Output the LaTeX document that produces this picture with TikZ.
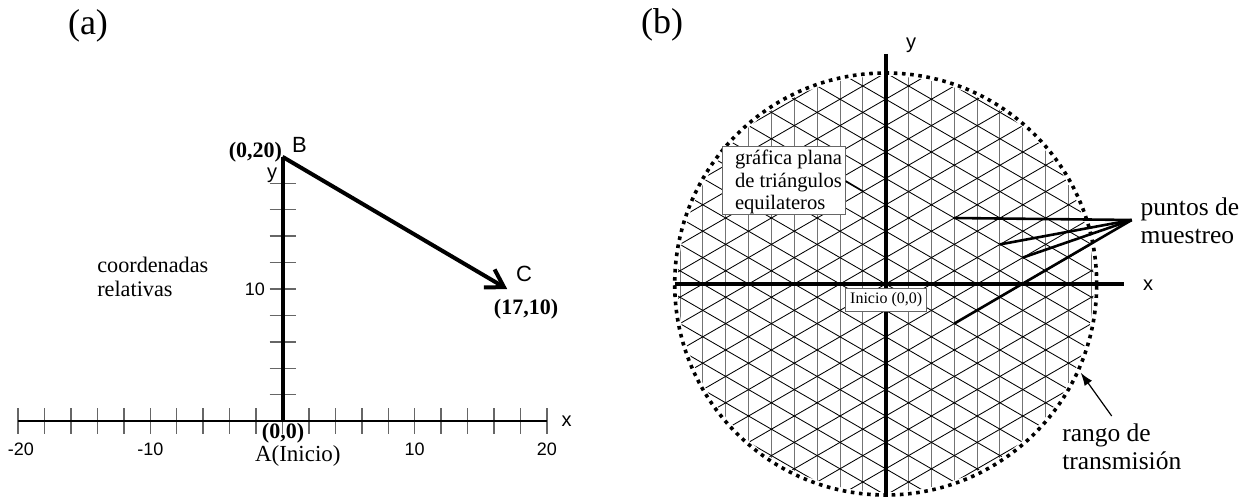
\documentclass[tikz,border=0pt]{standalone}
\usepackage{fontspec}
\setmainfont{Liberation Serif}
\setsansfont{Liberation Sans}
\usetikzlibrary{arrows.meta}
\newcommand{\fsz}[2]{\fontsize{#1pt}{#2pt}\selectfont}
\begin{document}
\begin{tikzpicture}[x=1pt,y=-1pt,
  every node/.style={inner sep=0pt, outer sep=0pt},
  panel/.style={font=\fsz{36}{40}},
  serif/.style={font=\fsz{22.2}{24.4}, align=left},
  bigserif/.style={font=\fsz{25.5}{27.5}, align=left},
  boldlbl/.style={font=\bfseries\fsz{22}{24}},
  sanslbl/.style={font=\sffamily\fsz{22}{24}},
  axlbl/.style={font=\sffamily\fsz{20}{22}},
  num/.style={font=\sffamily\fsz{18}{20}},
  tickln/.style={draw=black!60, line width=1.4pt},
  thinaxis/.style={draw=black, line width=1.8pt},
  thickaxis/.style={draw=black, line width=4pt},
  vec/.style={draw=black, line width=4pt, -{Straight Barb[length=17pt,width=21pt]}},
  vgrid/.style={draw=black!55, line width=1pt},
  dgrid/.style={draw=black, line width=0.85pt},
  rangecirc/.style={draw=black, line width=3.6pt, dash pattern=on 3.6pt off 4.6pt},
  lbox/.style={draw=black!60, line width=1pt, fill=white},
  sampleln/.style={draw=black, line width=2.6pt},
  leader/.style={draw=black, line width=1.3pt},
  pointer/.style={draw=black, line width=1.2pt, -{Latex[length=13pt,width=9pt]}},
]
\useasboundingbox (0,0) rectangle (1251,497);

% ---------------- panel (a) ----------------
\node[panel] (pa) at (88,26) {(a)};
\coordinate (A) at (282.5,421.2);
\coordinate (B) at (282.5,156.8);
\coordinate (C) at (507.2,289);
\coordinate (xa1) at (18.1,421.2);
\coordinate (xa2) at (546.9,421.2);
\foreach \i in {-20,-18,...,20} \draw[tickln] ({282.5+(\i)*13.22},408.2) -- ++(0,26);
\foreach \j in {2,4,...,18} \draw[tickln] (269.5,{421.2-(\j)*13.22}) -- ++(26,0);
\draw[thinaxis] (xa1) -- (xa2);
\draw[thickaxis] (A) -- (B);
\draw[vec] (B) -- (C);

\node[boldlbl, anchor=base east] (l020) at (282,157.3) {(0,20)};
\node[sanslbl] (lB) at (299.5,145) {B};
\node[axlbl] (ly) at (272,175) {y};
\node[sanslbl] (lC) at (524,274) {C};
\node[boldlbl, anchor=base] (l1710) at (526,315) {(17,10)};
\node[num, anchor=east] (l10y) at (265,289.3) {10};
\node[serif, anchor=base west] (coord) at (97.3,296.7) {coordenadas\\relativas};
\node[num, anchor=base] (lm20) at (21,455) {-20};
\node[num, anchor=base] (lm10) at (150.3,455) {-10};
\node[num, anchor=base] (lp10) at (414.7,455) {10};
\node[num, anchor=base] (lp20) at (546.9,455) {20};
\node[boldlbl, anchor=base] (l00) at (283,438.3) {(0,0)};
\node[font=\fsz{23}{25}, anchor=base west] (lA) at (255,461.7) {A(Inicio)};
\node[axlbl] (lx) at (566.5,421.7) {x};

% ---------------- panel (b) ----------------
\node[panel] (pb) at (662,25) {(b)};
\coordinate (O2) at (885.7,284);
\begin{scope}
  \clip (O2) circle[radius=208pt];
  \foreach \k in {-9,...,9} \draw[vgrid] ({885.7+(\k)*22.85},60) -- ++(0,450);
  \foreach \m in {-9,...,9} {
    \draw[dgrid] (665.7,{284+(\m)*26.4-127.02}) -- (1105.7,{284+(\m)*26.4+127.02});
    \draw[dgrid] (665.7,{284+(\m)*26.4+127.02}) -- (1105.7,{284+(\m)*26.4-127.02});
  }
\end{scope}
\draw[rangecirc] (O2) circle[radius=211pt];

\coordinate (xb1) at (674.5,284);
\coordinate (xb2) at (1124,284);
\coordinate (yb1) at (885.7,54);
\coordinate (yb2) at (885.7,497);
\draw[thickaxis] (xb1) -- (xb2);
\draw[thickaxis] (yb1) -- (yb2);
\node[axlbl] (lyb) at (911,45) {y};
\node[axlbl] (lxb) at (1148,285) {x};

% sample points
\coordinate (S1) at (954.25,218);
\coordinate (S2) at (999.95,244.4);
\coordinate (S3) at (1022.8,257.6);
\coordinate (S4) at (954.25,323.6);
\coordinate (P) at (1131.7,220);
\draw[sampleln] (S1) -- (P);
\draw[sampleln] (S2) -- (P);
\draw[sampleln] (S3) -- (P);
\draw[sampleln] (S4) -- (P);
\node[bigserif, anchor=base west] (pm) at (1140.7,243.5) {puntos de\\muestreo};

% graph label box
\node[lbox, minimum width=123pt, minimum height=68.3pt, anchor=north west] (gbox) at (722.7,146.7) {};
\node[font=\fsz{20.6}{22.5}, align=left, anchor=base west] (gtext) at (735,210) {gráfica plana\\de triángulos\\equilateros};
\coordinate (gp) at (863.5,191.5);
\draw[leader] (gbox.east) -- (gp);

% origin box
\node[lbox, minimum width=81pt, minimum height=22.7pt, font=\fsz{16}{18}] (ini) at (886.2,299.7) {Inicio (0,0)};

% transmission range
\coordinate (rt) at (1111.7,416);
\coordinate (rh) at (1080.7,372.7);
\draw[pointer] (rt) -- (rh);
\node[bigserif, anchor=base west] (rg) at (1062.3,469) {rango de\\transmisión};
\end{tikzpicture}
\end{document}
